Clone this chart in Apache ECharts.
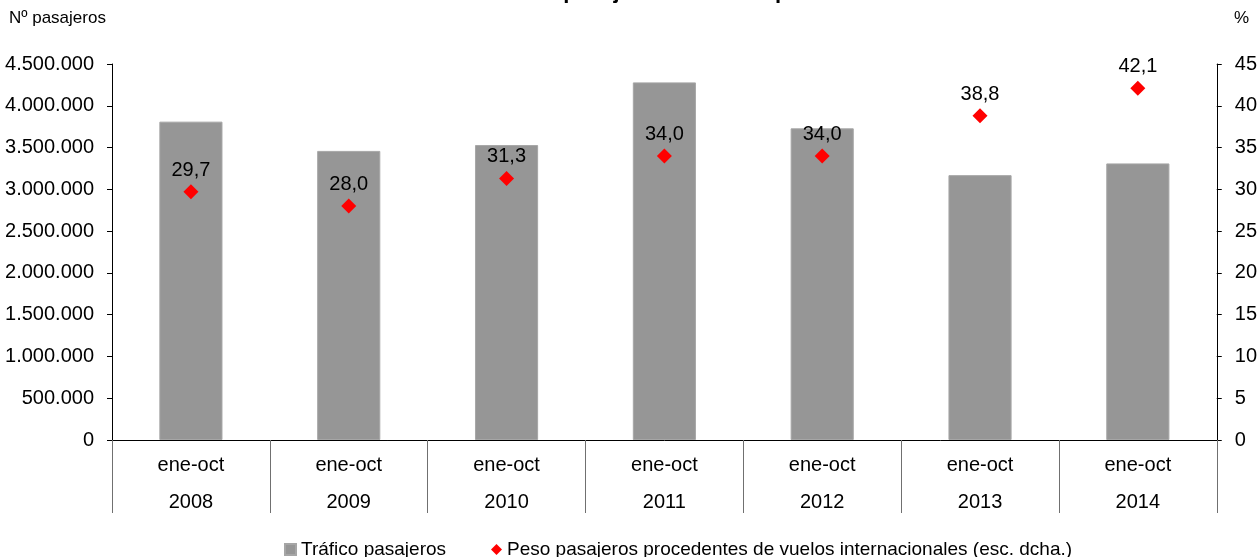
<!DOCTYPE html>
<html>
<head>
<meta charset="utf-8">
<script src="https://cdn.jsdelivr.net/npm/echarts@6/dist/echarts.min.js"></script>
<style>
html,body{margin:0;padding:0;background:#fff;}
#chart{width:1260px;height:557px;}
</style>
</head>
<body>
<div id="chart"></div>
<script>
const titleText = 'Evolución del tráfico de pasajeros en el aeropuerto de Sevilla';
const periods = ['ene-oct','ene-oct','ene-oct','ene-oct','ene-oct','ene-oct','ene-oct'];
const years = ['2008','2009','2010','2011','2012','2013','2014'];
const trafico = [3810000, 3460000, 3530000, 4280000, 3730000, 3170000, 3310000];
const pesoInternacional = [29.7, 28.0, 31.3, 34.0, 34.0, 38.8, 42.1];
const seriesNames = ['Tráfico pasajeros', 'Peso pasajeros procedentes de vuelos internacionales (esc. dcha.)'];
const leftAxisTitle = 'Nº pasajeros';
const rightAxisTitle = '%';

const FONT = '"Liberation Sans", Arial, sans-serif';
const categories = years.map((y, i) => periods[i] + '\n' + y);

function thousands(v) {
  return String(v).replace(/\B(?=(\d{3})+(?!\d))/g, '.');
}

const chart = echarts.init(document.getElementById('chart'), null, {renderer: 'canvas'});
chart.setOption({
  animation: false,
  backgroundColor: '#ffffff',
  textStyle: {fontFamily: FONT},
  title: {
    text: titleText,
    left: 'center',
    top: -24,
    textStyle: {fontFamily: FONT, fontSize: 22, fontWeight: 'bold', color: '#000'}
  },
  grid: {left: 112, right: 39, top: 64, bottom: 117, containLabel: false},
  legend: {
    left: 279,
    top: 535,
    itemWidth: 11,
    itemHeight: 11,
    itemGap: 45,
    textStyle: {fontFamily: FONT, fontSize: 19, color: '#000'},
    data: [
      {name: seriesNames[0], icon: 'rect'},
      {name: seriesNames[1], icon: 'diamond'}
    ]
  },
  xAxis: {
    type: 'category',
    data: categories,
    boundaryGap: true,
    axisLine: {lineStyle: {color: '#000', width: 1}},
    axisTick: {show: true, interval: 0, length: 73, lineStyle: {color: '#707070', width: 1}},
    axisLabel: {
      interval: 0,
      margin: 7,
      fontFamily: FONT,
      fontSize: 20,
      lineHeight: 37,
      color: '#000'
    },
    splitLine: {show: false}
  },
  yAxis: [
    {
      type: 'value',
      min: 0,
      max: 4500000,
      interval: 500000,
      position: 'left',
      axisLine: {show: true, lineStyle: {color: '#000'}},
      axisTick: {show: true, length: 5, lineStyle: {color: '#000'}},
      axisLabel: {margin: 18, fontFamily: FONT, fontSize: 20, color: '#000', formatter: v => thousands(v)},
      splitLine: {show: false}
    },
    {
      type: 'value',
      min: 0,
      max: 45,
      interval: 5,
      position: 'right',
      axisLine: {show: true, lineStyle: {color: '#000'}},
      axisTick: {show: true, length: 5, lineStyle: {color: '#000'}},
      axisLabel: {margin: 18, fontFamily: FONT, fontSize: 20, color: '#000'},
      splitLine: {show: false}
    }
  ],
  series: [
    {
      name: seriesNames[0],
      type: 'bar',
      yAxisIndex: 0,
      data: trafico,
      barWidth: '40%',
      itemStyle: {color: '#969696', borderColor: '#a6a6a6', borderWidth: 1}
    },
    {
      name: seriesNames[1],
      type: 'scatter',
      yAxisIndex: 1,
      data: pesoInternacional,
      symbol: 'diamond',
      symbolSize: 15,
      itemStyle: {color: '#ff0000', opacity: 1},
      label: {
        show: true,
        position: 'top',
        distance: 4,
        fontFamily: FONT,
        fontSize: 20,
        color: '#000',
        formatter: p => p.value.toFixed(1).replace('.', ',')
      }
    }
  ],
  graphic: [
    {type: 'text', left: 9, top: 10, style: {text: leftAxisTitle, font: '17px ' + FONT, fill: '#000'}},
    {type: 'text', left: 1234, top: 10, style: {text: rightAxisTitle, font: '17px ' + FONT, fill: '#000'}}
  ]
});
</script>
</body>
</html>
